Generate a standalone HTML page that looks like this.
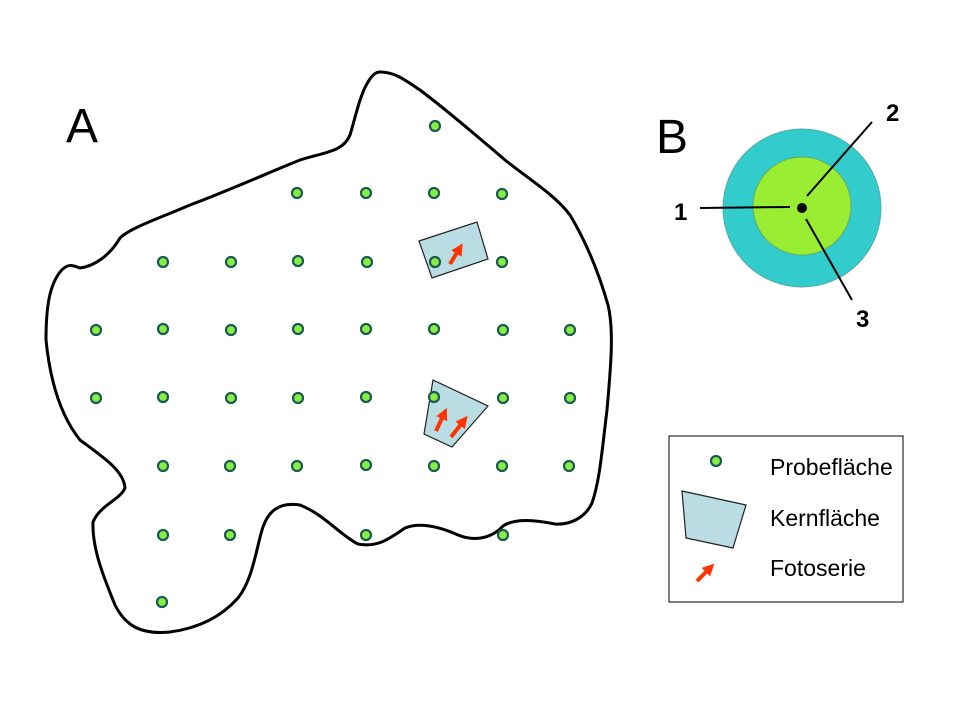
<!DOCTYPE html>
<html><head><style>body{margin:0;background:#fff}svg{display:block}</style></head><body>
<svg width="960" height="720" xmlns="http://www.w3.org/2000/svg" font-family="Liberation Sans, Arial, sans-serif">
<defs>
<marker id="ah" markerUnits="userSpaceOnUse" markerWidth="12" markerHeight="12" refX="3" refY="6" orient="auto"><path d="M0,0 L12,6 L0,12Z" fill="#ff3300"/></marker>
<g id="d"><circle r="5" fill="#88ee44" stroke="#1a5a55" stroke-width="2.2"/></g>
</defs>
<path d="M380,72 C395,72 405,80 420,90 C440,105 470,130 505,160 C530,180 555,195 570,215 C585,240 598,270 608,305 C614,330 611,365 607,410 C602,450 600,480 592,503 C585,518 570,525 555,524 C535,520 515,518 503,526 C492,538 475,542 458,535 C440,527 420,522 405,528 C390,538 378,548 358,544 C340,535 325,515 300,505 C280,502 268,510 262,530 C255,555 252,580 238,598 C222,616 200,628 170,632 C140,635 125,625 115,605 C105,580 92,550 93,522 C100,505 120,500 125,488 C124,470 100,455 80,440 C60,415 50,380 46,340 C46,305 50,285 60,272 C68,262 74,266 80,268 C95,266 110,255 120,238 C130,228 160,218 190,205 C230,190 270,172 300,160 C325,152 343,152 350,135 C356,115 360,95 368,82 C372,75 376,72 380,72Z" fill="none" stroke="#000" stroke-width="3"/>
<text x="66" y="142" font-size="48">A</text>
<text x="656" y="153" font-size="48">B</text>
<polygon points="419,241 477,222 488,259 432,278" fill="#b9dde2" stroke="#222" stroke-width="1.2"/>
<polygon points="433,380 488,406 452,447 424,434" fill="#b9dde2" stroke="#222" stroke-width="1.2"/>
<rect x="669" y="436" width="234" height="166" fill="#fff" stroke="#000" stroke-width="1"/>
<g stroke="#ff3300" stroke-width="4" marker-end="url(#ah)">
<line x1="450" y1="264" x2="458" y2="251"/>
<line x1="436" y1="431" x2="443" y2="416"/>
<line x1="451" y1="437" x2="462" y2="423"/>
<line x1="697" y1="581" x2="708" y2="570"/>
</g>
<g>
<use href="#d" x="435" y="126"/>
<use href="#d" x="297" y="193"/><use href="#d" x="366" y="193"/><use href="#d" x="434" y="193"/><use href="#d" x="502" y="194"/>
<use href="#d" x="163" y="262"/><use href="#d" x="231" y="262"/><use href="#d" x="298" y="261"/><use href="#d" x="367" y="262"/><use href="#d" x="435" y="262"/><use href="#d" x="502" y="262"/>
<use href="#d" x="96" y="330"/><use href="#d" x="163" y="329"/><use href="#d" x="231" y="330"/><use href="#d" x="298" y="329"/><use href="#d" x="366" y="329"/><use href="#d" x="434" y="329"/><use href="#d" x="503" y="330"/><use href="#d" x="570" y="330"/>
<use href="#d" x="96" y="398"/><use href="#d" x="163" y="397"/><use href="#d" x="231" y="398"/><use href="#d" x="298" y="398"/><use href="#d" x="366" y="397"/><use href="#d" x="434" y="397"/><use href="#d" x="503" y="398"/><use href="#d" x="570" y="398"/>
<use href="#d" x="163" y="466"/><use href="#d" x="230" y="466"/><use href="#d" x="297" y="466"/><use href="#d" x="366" y="465"/><use href="#d" x="434" y="466"/><use href="#d" x="502" y="466"/><use href="#d" x="569" y="466"/>
<use href="#d" x="163" y="535"/><use href="#d" x="230" y="535"/><use href="#d" x="366" y="535"/><use href="#d" x="503" y="535"/>
<use href="#d" x="162" y="602"/>
<use href="#d" x="716" y="461"/>
</g>
<circle cx="802" cy="208" r="79" fill="#33cccc" stroke="#55aaaa" stroke-width="1"/>
<circle cx="802" cy="206" r="49" fill="#99ee33" stroke="#66aa66" stroke-width="1"/>
<circle cx="802" cy="208" r="5" fill="#000"/>
<g stroke="#000" stroke-width="2">
<line x1="700" y1="208" x2="790" y2="207"/>
<line x1="872" y1="122" x2="807" y2="196"/>
<line x1="806" y1="219" x2="852" y2="300"/>
</g>
<g font-size="24" font-weight="bold">
<text x="674" y="220">1</text><text x="886" y="121">2</text><text x="856" y="327">3</text>
</g>
<polygon points="682,491 746,505 733,548 686,538" fill="#b9dde2" stroke="#222" stroke-width="1.2"/>
<g font-size="23" fill="#000">
<text x="770" y="475">Probefläche</text>
<text x="770" y="526">Kernfläche</text>
<text x="770" y="576">Fotoserie</text>
</g>
</svg>
</body></html>
